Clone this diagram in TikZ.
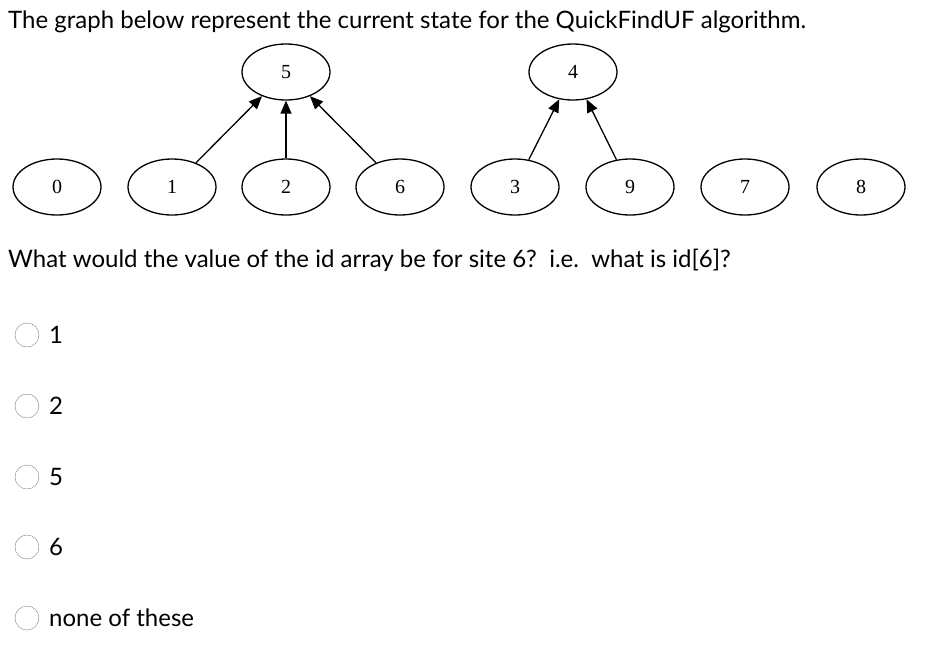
\documentclass[tikz,border=0pt]{standalone}
\usepackage{fontspec}
\setmainfont{Lato}
\newfontfamily\graphfont{Liberation Serif}
\usetikzlibrary{shapes.geometric, arrows.meta}

\begin{document}
\begin{tikzpicture}[x=1pt, y=-1pt, >={Triangle[length=13pt, width=11pt]},
    site/.style={draw, line width=1.3pt, ellipse, minimum width=88pt, minimum height=56pt, inner sep=0pt, font=\graphfont\fontsize{20}{20}\selectfont},
    link/.style={line width=1.3pt, ->},
    txt/.style={anchor=west, inner sep=0pt, font=\fontsize{24}{28}\selectfont},
    radio/.style={draw, gray, circle, minimum size=24pt, inner sep=0pt}]
    \useasboundingbox (0, 0) rectangle (948, 657);
    \node[txt] (title) at (8, 22) {The graph below represent the current state for the QuickFindUF algorithm.};
    % roots
    \node[site] (s5) at (286, 72) {5};
    \node[site] (s4) at (573, 72) {4};
    % sites
    \node[site] (s0) at (57, 187) {0};
    \node[site] (s1) at (172, 187) {1};
    \node[site] (s2) at (286, 187) {2};
    \node[site] (s6) at (400, 187) {6};
    \node[site] (s3) at (515, 187) {3};
    \node[site] (s9) at (630, 187) {9};
    \node[site] (s7) at (745, 187) {7};
    \node[site] (s8) at (861, 187) {8};
    \draw[link] (s1) -- (s5);
    \draw[link] (s2) -- (s5);
    \draw[link] (s6) -- (s5);
    \draw[link] (s3) -- (s4);
    \draw[link] (s9) -- (s4);
    \node[txt] (question) at (8, 260) {What would the value of the id array be for site 6?\ \ i.e.\ \ what is id[6]?};
    % answers
    \foreach \y/\ans [count=\i] in {335/1, 406/2, 477/5, 547/6, 618/none of these} {
        \node[radio] (r\i) at (27, \y) {};
        \node[txt] (a\i) at (49, \y) {\ans};
    }
\end{tikzpicture}
\end{document}
